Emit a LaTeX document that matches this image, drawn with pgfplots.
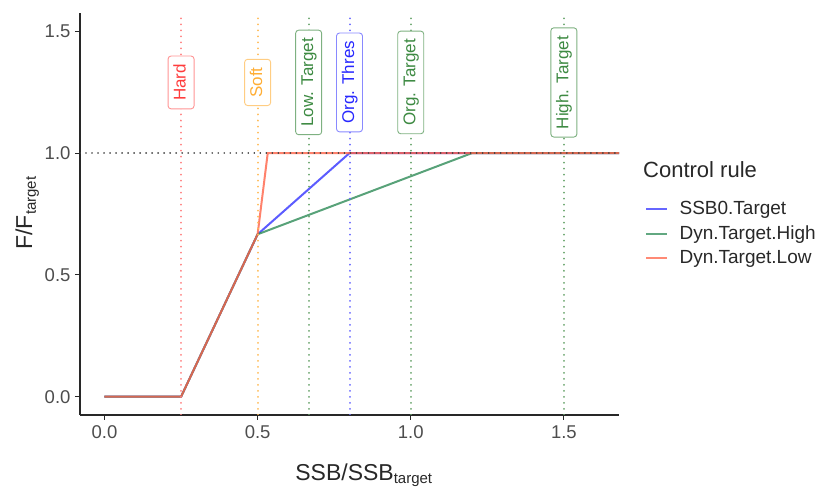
\documentclass[border=0pt]{standalone}
\usepackage{fontspec}
\setmainfont{Liberation Sans}
\usepackage{pgfplots}
\pgfplotsset{compat=1.18}
\definecolor{cblue}{RGB}{51,51,255}
\definecolor{cgreen}{RGB}{46,139,87}
\definecolor{cred}{RGB}{255,99,71}
\definecolor{vred}{RGB}{255,60,60}
\definecolor{vorange}{RGB}{255,165,30}
\definecolor{vgreen}{RGB}{40,125,45}
\definecolor{vblue}{RGB}{40,40,255}
\definecolor{tickgray}{RGB}{77,77,77}
\definecolor{axgray}{RGB}{40,40,40}
\begin{document}
\begin{tikzpicture}
\useasboundingbox (0,0) rectangle (823pt,493pt);
\begin{axis}[
  at={(80pt,78pt)}, anchor=south west,
  scale only axis, width=539pt, height=402pt,
  xmin=-0.08, xmax=1.68, ymin=-0.075, ymax=1.575,
  axis x line*=bottom, axis y line*=left,
  axis line style={-, line width=1.2pt, color=axgray},
  xtick={0,0.5,1,1.5}, ytick={0,0.5,1,1.5},
  xticklabels={0.0,0.5,1.0,1.5}, yticklabels={0.0,0.5,1.0,1.5},
  tick align=outside, major tick length=5pt,
  tick style={line width=1.1pt, color=axgray},
  ticklabel style={font=\fontsize{18.5}{20}\selectfont, text=tickgray},
  xticklabel style={yshift=-2pt},
  yticklabel style={xshift=-1pt},
  xlabel={SSB/SSB\textsubscript{\fontsize{15}{15}\selectfont target}},
  ylabel={F/F\textsubscript{\fontsize{15}{15}\selectfont target}},
  xlabel style={at={(axis description cs:0.393,-0.1617)}, anchor=base west, font=\fontsize{23}{26}\selectfont, text=axgray},
  ylabel style={at={(axis description cs:-0.089,0.403)}, anchor=base west, rotate=0, font=\fontsize{23}{26}\selectfont, text=axgray},
  legend style={at={(axis description cs:1.048,0.535)}, anchor=north west, draw=none, fill=none,
    font=\fontsize{19}{22}\selectfont, text=axgray, row sep=6.5pt, inner sep=0pt,
    nodes={inner sep=1.5pt}},
  legend cell align=left,
  legend image code/.code={\draw[#1, opacity=0.75] (0pt,0pt) -- (21pt,0pt); \path[draw=none, draw opacity=0] (0pt,0pt) -- (32pt,0pt);},
  clip=true,
]
\addplot[cblue, line width=2pt, opacity=0.8] coordinates {(0,0) (0.25,0) (0.5,0.6667) (0.8,1) (1.68,1)};
\addlegendentry{SSB0.Target}
\addplot[cgreen, line width=2pt, opacity=0.8] coordinates {(0,0) (0.25,0) (0.5,0.6667) (1.2,1) (1.68,1)};
\addlegendentry{Dyn.Target.High}
\addplot[cred, line width=2pt, opacity=0.8] coordinates {(0,0) (0.25,0) (0.5,0.6667) (0.533,1) (1.68,1)};
\addlegendentry{Dyn.Target.Low}
% vertical reference lines
\pgfplotsset{vl/.style={forget plot, line width=2pt, line cap=round, dash pattern=on 0.01pt off 6pt}}
\addplot[vl, vred!65] coordinates {(0.25,-0.075) (0.25,1.575)};
\addplot[vl, vorange!75] coordinates {(0.5,-0.075) (0.5,1.575)};
\addplot[vl, vgreen!70] coordinates {(0.6667,-0.075) (0.6667,1.575)};
\addplot[vl, vblue!70] coordinates {(0.8,-0.075) (0.8,1.575)};
\addplot[vl, vgreen!70] coordinates {(1.0,-0.075) (1.0,1.575)};
\addplot[vl, vgreen!70] coordinates {(1.5,-0.075) (1.5,1.575)};
% horizontal reference line
\addplot[forget plot, black!75, line width=1.8pt, line cap=round, dash pattern=on 0.01pt off 6pt] coordinates {(-0.08,1) (1.68,1)};
% labels
\tikzset{lab/.style={rotate=90, rounded corners=3pt, fill=white, line width=0.9pt,
  inner xsep=8pt, inner ysep=5pt, text height=12.5pt, text depth=3.5pt,
  font=\fontsize{17}{20}\selectfont}}
\node[lab, draw=vred!55, text=vred] at (axis cs:0.25,1.29) {Hard};
\node[lab, draw=vorange!55, text=vorange!90] at (axis cs:0.5,1.29) {Soft};
\node[lab, draw=vgreen!60, text=vgreen!90] at (axis cs:0.6667,1.29) {Low. Target};
\node[lab, draw=vblue!55, text=vblue] at (axis cs:0.8,1.29) {Org. Thres};
\node[lab, draw=vgreen!60, text=vgreen!90] at (axis cs:1.0,1.29) {Org. Target};
\node[lab, draw=vgreen!60, text=vgreen!90] at (axis cs:1.5,1.29) {High. Target};
\end{axis}
\node[anchor=base west, inner sep=0pt, font=\fontsize{22}{26}\selectfont, text=axgray] at (643pt,315pt) {Control rule};
\end{tikzpicture}
\end{document}
